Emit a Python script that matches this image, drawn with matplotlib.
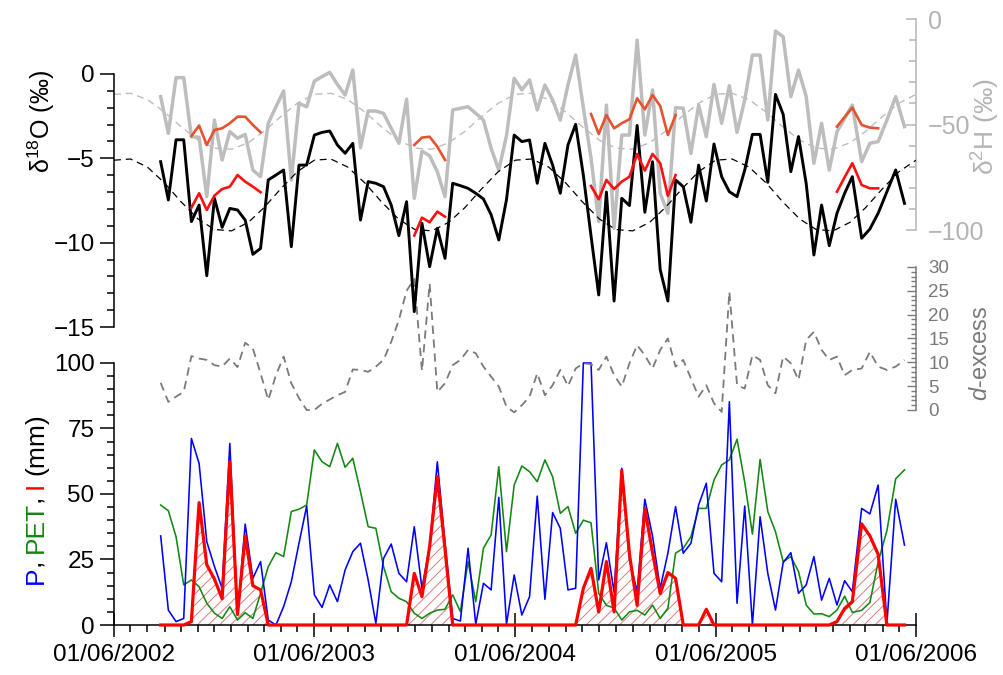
import numpy as np
import pandas as pd
import matplotlib
matplotlib.use('Agg')
import matplotlib.pyplot as plt
import matplotlib.dates as mdates
from matplotlib.font_manager import FontProperties, findfont, get_font

plt.rcParams['font.family'] = ['Liberation Sans', 'DejaVu Sans']
plt.rcParams['mathtext.fontset'] = 'custom'
plt.rcParams['mathtext.rm'] = 'Liberation Sans'
plt.rcParams['mathtext.it'] = 'Liberation Sans:italic'
plt.rcParams['lines.scale_dashes'] = False
plt.rcParams['hatch.linewidth'] = 0.7
plt.rcParams['axes.linewidth'] = 1.1

# ---------------- data ----------------
sample_dates = list(pd.date_range('2002-08-25', periods=91, freq='14D')) + \
    list(pd.to_datetime(['2006-02-22', '2006-03-09', '2006-03-24',
                         '2006-04-09', '2006-04-25', '2006-05-11']))

d18O = [-5.2, -7.47, -3.9, -3.9, -8.75, -7.77, -11.96, -7.37, -9.09, -7.97,
        -8.06, -8.66, -10.69, -10.34, -6.28, -5.99, -5.69, -10.24, -5.4, -5.4,
        -3.62, -3.46, -3.38, -4.21, -4.7, -4.11, -8.66, -6.38, -6.48, -6.68,
        -7.77, -9.58, -7.57, -14.09, -8.85, -11.42, -9.15, -10.93, -6.48, -6.62,
        -6.78, -7.07, -7.41, -8.34, -9.84, -7.45, -3.62, -4.01, -3.91, -6.48,
        -4.11, -5.4, -7.07, -4.21, -2.98, -6.0, -9.6, -13.1, -7.0, -13.46,
        -7.37, -7.8, -3.05, -8.2, -5.2, -11.6, -13.46, -6.28, -6.68, -8.79,
        -5.4, -7.53, -4.15, -6.09, -6.98, -7.27, -5.7, -3.58, -3.58, -6.42,
        -1.21, -2.39, -5.79, -3.71, -6.5, -10.73, -7.77, -10.18, -8.26, -7.07,
        -6.09, -9.74, -9.19, -8.26, -6.98, -5.69, -7.67]

d2H = [-36.8, -54.2, -27.8, -27.8, -55.8, -56, -84.2, -47.9, -66.8, -53.4,
       -56.5, -54.7, -71.6, -74.7, -49.4, -41.6, -34.1, -76.3, -40, -41.6,
       -29.4, -27.3, -25.3, -31, -36, -24.2, -61, -43.6, -43.6, -44.7,
       -51.8, -58.9, -38, -85, -62.6, -64.8, -72.4, -84.2, -43.1, -42.3,
       -41.6, -44.7, -47.9, -61.3, -71.6, -55.3, -28.1, -33.6, -28.9, -43.1,
       -31.3, -38.4, -47.9, -31.3, -17.1, -42, -66, -96, -40.8, -99.2,
       -55, -55, -10, -55, -33.6, -82.6, -92.1, -42, -42.3, -63.7,
       -40.8, -55.8, -31, -49.4, -31.6, -53.7, -38.4, -17.1, -17.1, -47.9,
       -5.7, -8.4, -36.8, -24.2, -36.8, -68.4, -49.4, -71.6, -53.4, -47.1,
       -40.8, -67.6, -58.9, -58.1, -47.9, -36.8, -51]

d_excess = [5.7, 1.7, 2.8, 3.8, 11.3, 10.8, 10.5, 9.4, 9.1, 10.8,
            9, 14.1, 12.9, 7.7, 2.1, 7.3, 11.2, 5.6, 2.5, 0,
            0, 1.3, 2.2, 3.1, 3.8, 8.5, 8.4, 8, 9.1, 10.5,
            14.3, 18.9, 25, 27.5, 8.2, 26.5, 3.8, 5.6, 9.4, 10.5,
            12.6, 11.9, 9.1, 7, 4.9, 0.7, -0.5, 1, 2.8, 7.7,
            3.1, 5.2, 8.4, 5, 8.7, 9.8, 9.6, 8.4, 11.2, 7.3,
            4.9, 9.8, 13.6, 11.5, 8.7, 12.6, 15, 9.1, 10.5, 6.6,
            2.8, 5.2, 1.4, -0.4, 24.8, 5.2, 4.5, 11.5, 10.5, 5.2,
            3.5, 11.2, 9.8, 6.3, 14.7, 16.4, 12.6, 10.5, 11.2, 7.3,
            8.4, 8.7, 12.2, 9.1, 8.4, 9.1, 10.5]

P = [34, 5.7, 1.3, 2.5, 71.2, 61.7, 31.8, 22.3, 14, 69.3,
     3.8, 38.5, 17.8, 24.2, 1.9, 0, 7, 16.5, 31.2, 45.4,
     11.5, 6.7, 15.3, 8.9, 21, 28, 31.2, 17.2, 0.6, 25.4,
     30.9, 19.7, 16.5, 37.5, 14, 30, 62.3, 31.2, 2.5, 1.5,
     29.3, 0.3, 15.9, 13.4, 48.7, 0.3, 19.1, 3.8, 10.8, 49.2,
     9.8, 42.9, 36.9, 13.4, 14, 100, 100, 17.2, 31.4, 12.5,
     59.8, 25, 12.7, 48, 34, 14, 27.4, 45.2, 27.4, 31.2,
     45.8, 54.1, 19.7, 16.5, 85.2, 8.3, 45.4, 0, 41.3, 19.7,
     5.7, 23.8, 27.6, 12.1, 15.3, 26.1, 9.5, 17.8, 7.6, 16.9,
     12.7, 44.5, 42.4, 53.4, 0.6, 48, 30.5]

PET = [45.8, 43.6, 33.7, 15.3, 17.2, 14.6, 8.3, 4.5, 2.5, 7,
       1.9, 4.7, 2.5, 12.1, 22.3, 27.6, 26.1, 43.3, 44.2, 45.8,
       66.8, 62.3, 60.4, 69.3, 60.2, 63.6, 50.9, 37.5, 36.9, 22.3,
       12.7, 10.2, 8.9, 4.5, 2.5, 4.5, 5.7, 6, 11.5, 5.1,
       24.2, 8.9, 29.3, 34.4, 60.4, 28, 53.4, 60.7, 58.5, 54.7,
       63, 56.6, 42.6, 45.2, 35, 40, 39, 12.1, 7.5, 6.5,
       1.9, 5, 5.6, 3.8, 7.6, 2.5, 6.4, 27.4, 29.3, 33.7,
       44.5, 44.5, 55.3, 61.1, 63, 70.9, 54.5, 34.7, 63.2, 43.3,
       35.6, 24.2, 26.1, 20.4, 7.6, 4.2, 4.3, 3.2, 5.7, 11,
       4.8, 5.6, 8.6, 24, 36, 55.8, 59.2]

I = [0, 0, 0, 0, 1.3, 46.7, 23, 17.5, 10, 62.3,
     4, 34, 15, 13.4, 0, 0, 0, 0, 0, 0,
     0, 0, 0, 0, 0, 0, 0, 0, 0, 0,
     0, 0, 0, 19.7, 10.8, 30, 56.6, 29, 0, 0,
     0, 0, 0, 0, 0, 0, 0, 0, 0, 0,
     0, 0, 0, 0, 0, 14, 21.6, 5, 24.2, 5,
     59, 27, 7.5, 44.5, 27.7, 12, 20, 17.8, 0, 0,
     0, 6, 0, 0, 0, 0, 0, 0, 0, 0,
     0, 0, 0, 0, 0, 0, 0, 0, 1.3, 6.3,
     8.9, 38.6, 34, 27, 0, 0, 0]

# irrigation-water isotopes: first sample index of each period and values
irr_start = [4, 33, 56, 88]
irr_d18O = [[-7.93, -7.07, -8.06, -7.21, -6.82, -6.68, -5.99, -6.38, -6.68, -7.01],
            [-9.58, -8.52, -8.79, -8.16, -8.46],
            [-6.64, -7.43, -6.28, -6.82, -6.38, -6.09, -4.74, -5.73, -4.74, -5.29, -7.23, -5.99],
            [-6.98, -6.12, -5.29, -6.58, -6.78, -6.78]]
irr_d2H = [[-55.5, -50.5, -59.7, -52.6, -51.8, -49.4, -46.3, -46.3, -50.2, -53.7],
           [-59.7, -56.2, -55.8, -60.5, -66.8],
           [-45, -54.5, -45.5, -51.8, -49.4, -47.5, -37.6, -42.8, -36, -41.2, -55, -45.5],
           [-51, -46.4, -42, -50.2, -51.5, -51.8]]

# seasonal (fitted) curves, read at the first of each month Jun 2002 - Jun 2006
fit_dates = pd.date_range('2002-06-01', '2006-06-01', freq='MS')
fit_d18O = [-5.11, -5.04, -5.52, -6.46, -7.57, -8.59, -9.22, -9.30, -8.79, -7.93, -6.80, -5.79,
            -5.11, -5.04, -5.52, -6.46, -7.57, -8.59, -9.22, -9.30, -8.79, -7.93, -6.80, -5.79,
            -5.11, -5.04, -5.52, -6.46, -7.57, -8.59, -9.22, -9.30, -8.79, -7.93, -6.80, -5.79,
            -5.11, -5.04, -5.52, -6.46, -7.57, -8.59, -9.22, -9.30, -8.79, -7.93, -6.80, -5.79,
            -5.11]
fit_d2H = [-35.7, -35.2, -38.2, -44.1, -51.0, -57.4, -61.2, -61.7, -58.6, -53.3, -46.2, -39.9,
           -35.7, -35.2, -38.2, -44.1, -51.0, -57.4, -61.2, -61.7, -58.6, -53.3, -46.2, -39.9,
           -35.7, -35.2, -38.2, -44.1, -51.0, -57.4, -61.2, -61.7, -58.6, -53.3, -46.2, -39.9,
           -35.7, -35.2, -38.2, -44.1, -51.0, -57.4, -61.2, -61.7, -58.6, -53.3, -46.2, -39.9,
           -35.7]

# ---------------- figure ----------------
W, H = 1004, 675
fig = plt.figure(figsize=(W / 100, H / 100), dpi=100)
rect = [114 / W, 50 / H, (916 - 114) / W, 615 / H]

ax_p = fig.add_axes(rect)
ax_d = fig.add_axes(rect, sharex=ax_p)
ax_h = fig.add_axes(rect, sharex=ax_p)
ax_o = fig.add_axes(rect, sharex=ax_p)

xs = mdates.date2num(sample_dates)
xf = mdates.date2num(fit_dates)

GRAY_H = '#bdbdbd'
GRAY_HT = '#b4b4b4'
GRAY_D = '#7a7a7a'
BLUE = '#0000ff'
GREEN = '#118811'
RED = '#ff0000'

# bottom panel
ax_p.fill_between(xs, 0, I, facecolor='none', edgecolor='#e07a7a', hatch='///',
                  linewidth=0, zorder=1)
ax_p.plot(xs, PET, color=GREEN, lw=1.15, zorder=2)
ax_p.plot(xs, P, color=BLUE, lw=1.15, zorder=3)
ax_p.plot(xs, I, color=RED, lw=2.3, zorder=4, clip_on=False)

# d-excess
ax_d.plot(xs, d_excess, color=GRAY_D, lw=1.3, dashes=(6, 4))

# d2H
ax_h.plot(xf, fit_d2H, color=GRAY_H, lw=1.0, dashes=(5, 3.5))
ax_h.plot(xs, d2H, color=GRAY_H, lw=2.5)
for st, vals in zip(irr_start, irr_d2H):
    ax_h.plot(xs[st:st + len(vals)], vals, color='#e5522f', lw=1.9)

# d18O
ax_o.plot(xf, fit_d18O, color='black', lw=0.9, dashes=(5, 3.5))
ax_o.plot(xs, d18O, color='black', lw=2.1)
for st, vals in zip(irr_start, irr_d18O):
    ax_o.plot(xs[st:st + len(vals)], vals, color='#ff1010', lw=1.9)

# limits
x_min = mdates.date2num(pd.Timestamp('2002-06-01'))
x_max = mdates.date2num(pd.Timestamp('2006-06-01'))
ax_p.set_xlim(x_min, x_max)
ax_p.set_ylim(0, 234.7)
ax_o.set_ylim(-32.667, 3.794)
ax_h.set_ylim(-287.2, 4.27)
ax_d.set_ylim(-45.1, 83.9)

for ax in (ax_d, ax_h, ax_o):
    ax.patch.set_visible(False)
    for s in ax.spines.values():
        s.set_visible(False)
    ax.tick_params(axis='x', which='both', bottom=False, top=False,
                   labelbottom=False, labeltop=False)

# bottom axes spines / ticks
ax_p.spines['top'].set_visible(False)
ax_p.spines['right'].set_visible(False)
ax_p.spines['left'].set_bounds(0, 100)
ax_p.set_yticks([0, 25, 50, 75, 100])
ax_p.set_yticks(np.arange(0, 101, 5), minor=True)
ax_p.tick_params(axis='y', which='major', direction='out', length=10, width=1.1,
                 labelsize=17.5, pad=4)
ax_p.tick_params(axis='y', which='minor', direction='out', length=5, width=1.1)

ax_p.xaxis.set_major_locator(mdates.YearLocator(base=1, month=6, day=1))
ax_p.xaxis.set_major_formatter(mdates.DateFormatter('%d/%m/%Y'))
ax_p.xaxis.set_minor_locator(mdates.MonthLocator())
ax_p.tick_params(axis='x', which='major', direction='inout', length=17, width=1.1,
                 labelsize=17.5, pad=5.5)
ax_p.tick_params(axis='x', which='minor', direction='out', length=5, width=1.1)

# d18O axis
ax_o.spines['left'].set_visible(True)
ax_o.spines['left'].set_bounds(-15, 0)
ax_o.set_yticks([-15, -10, -5, 0])
ax_o.set_yticks(np.arange(-15, 1, 1), minor=True)
ax_o.tick_params(axis='y', which='major', direction='out', length=10, width=1.1,
                 labelsize=17.5, pad=4)
ax_o.tick_params(axis='y', which='minor', direction='out', length=5, width=1.1)

# d2H axis
ax_h.spines['right'].set_visible(True)
ax_h.spines['right'].set_bounds(-100, 0)
ax_h.spines['right'].set_color(GRAY_HT)
ax_h.yaxis.set_ticks_position('right')
ax_h.set_yticks([-100, -50, 0])
ax_h.set_yticks(np.arange(-100, 1, 10), minor=True)
ax_h.tick_params(axis='y', which='major', direction='in', length=7, width=1.1,
                 labelsize=18, pad=8.5, colors=GRAY_HT, left=False, right=True,
                 labelleft=False, labelright=True)
ax_h.tick_params(axis='y', which='minor', direction='in', length=5, width=1.1,
                 colors=GRAY_HT, left=False, right=True)

# d-excess axis
ax_d.spines['right'].set_visible(True)
ax_d.spines['right'].set_bounds(0, 30)
ax_d.spines['right'].set_color(GRAY_D)
ax_d.yaxis.set_ticks_position('right')
ax_d.set_yticks(np.arange(0, 31, 5))
ax_d.set_yticks(np.arange(0, 31, 1), minor=True)
ax_d.tick_params(axis='y', which='major', direction='in', length=6.5, width=1.0,
                 labelsize=13.5, pad=9, colors=GRAY_D, left=False, right=True,
                 labelleft=False, labelright=True)
ax_d.tick_params(axis='y', which='minor', direction='in', length=3.5, width=1.0,
                 colors=GRAY_D, left=False, right=True)

# axis titles
fig.text(50 / W, 1 - 122 / H, 'δ$^{18}$O (‰)', rotation=90, rotation_mode='anchor',
         ha='center', va='baseline', fontsize=18)
fig.text(995 / W, 1 - 127 / H, 'δ$^{2}$H (‰)', rotation=90, rotation_mode='anchor',
         ha='center', va='baseline', fontsize=19, color=GRAY_HT)
fig.text(987 / W, 1 - 353 / H, '$d$-excess', rotation=90, rotation_mode='anchor',
         ha='center', va='baseline', fontsize=17, color=GRAY_D)

# multi-coloured label "P, PET, I (mm)" built from glyph advances (light kerning)
fs_lab = 19
em_px = fs_lab * 100 / 72
ft = get_font(findfont(FontProperties(family='Liberation Sans')))
ft.set_size(fs_lab, 100)
kern_em = {('P', ','): -0.07, ('T', ','): -0.06}


def advance(ch):
    return ft.load_char(ord(ch)).linearHoriAdvance / 65536.0


def bearing(ch):
    return ft.load_char(ord(ch)).horiBearingX / 64.0


pieces = [('P', BLUE), (', ', 'black'), ('PET', GREEN), (', ', 'black'),
          ('I', RED), (' (mm)', 'black')]
full = ''.join(s for s, _ in pieces)
pos = [0.0]
for a, b in zip(full[:-1], full[1:]):
    pos.append(pos[-1] + advance(a) + kern_em.get((a, b), 0.0) * em_px)

x0_px, y0_px = 43, 586
k = 0
for s, c in pieces:
    st = s.lstrip()
    first = k + (len(s) - len(st))
    if st:
        y_px = y0_px - pos[first] - bearing(st[0])
        fig.text(x0_px / W, (H - y_px) / H, st, rotation=90, rotation_mode='anchor',
                 ha='left', va='baseline', color=c, fontsize=fs_lab)
    k += len(s)

fig.savefig('out.png', dpi=100)
